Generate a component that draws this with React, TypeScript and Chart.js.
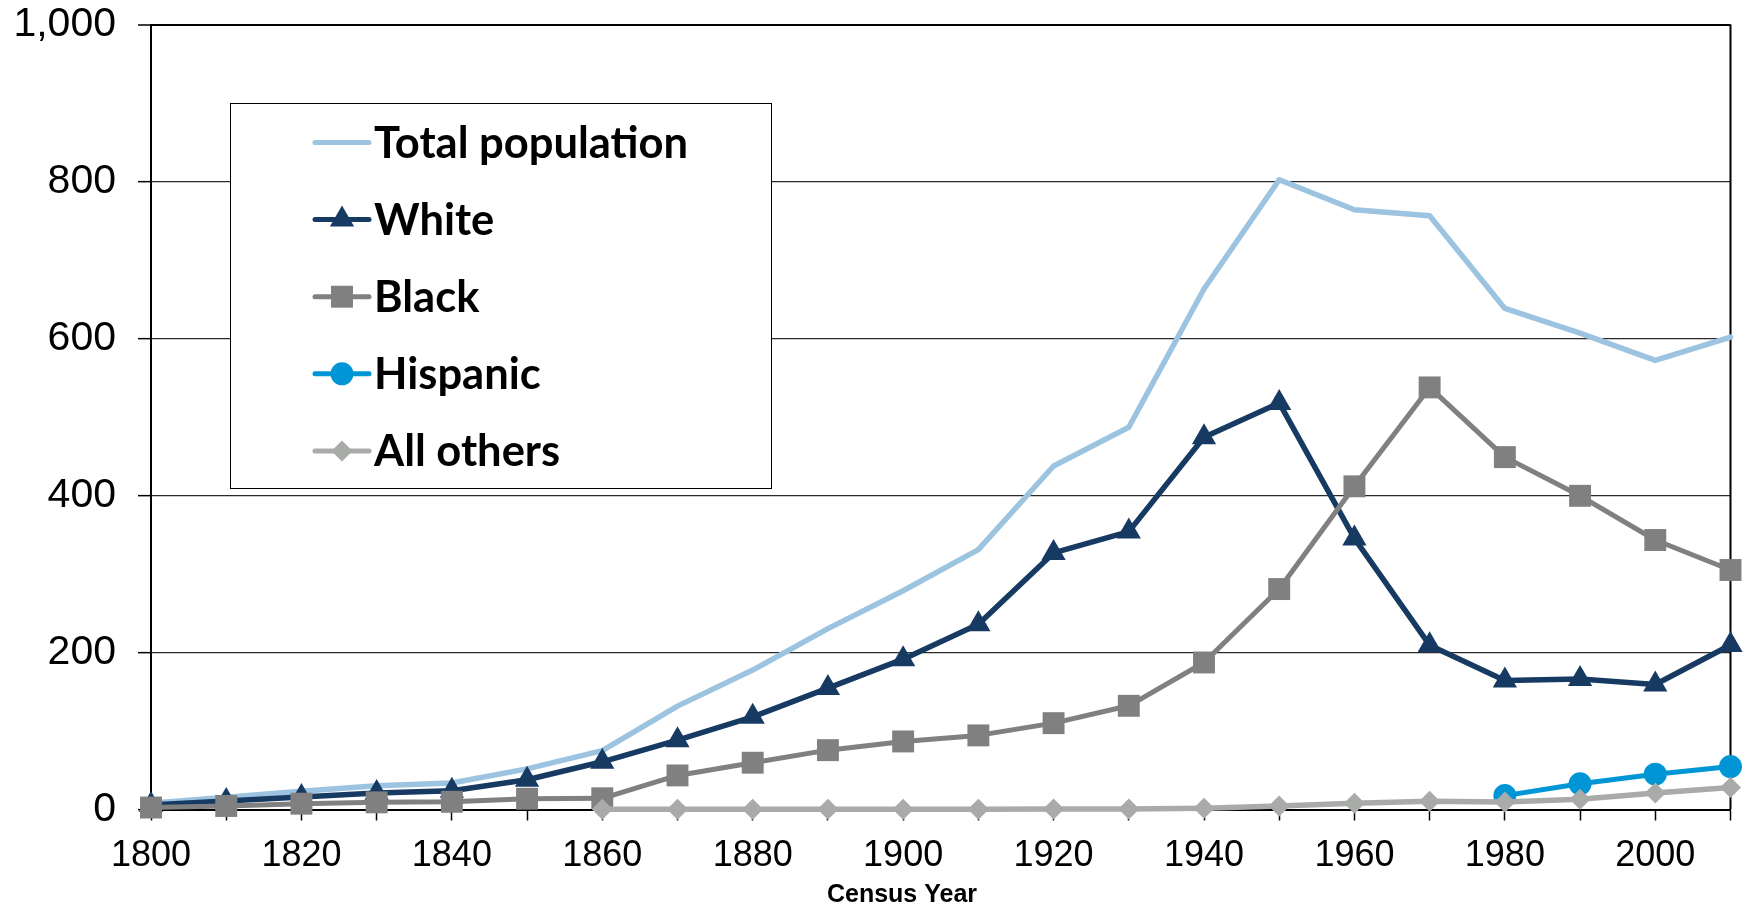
import React, { useEffect, useRef } from 'react';
import { Chart, registerables } from 'chart.js';

Chart.register(...registerables);

// Census years (x categories)
const years = [1800, 1810, 1820, 1830, 1840, 1850, 1860, 1870, 1880, 1890, 1900, 1910, 1920, 1930, 1940, 1950, 1960, 1970, 1980, 1990, 2000, 2010];
// Labelled x ticks
const xLabelYears = [1800, 1820, 1840, 1860, 1880, 1900, 1920, 1940, 1960, 1980, 2000];
// Y tick values (thousands)
const yTicks = [0, 200, 400, 600, 800, 1000];

// Series (thousands of people)
const totalPop = [8.1, 15.5, 23.3, 30.3, 33.7, 51.7, 75.1, 131.7, 177.6, 230.4, 278.7, 331.1, 437.6, 486.9, 663.1, 802.2, 764.0, 756.5, 638.3, 606.9, 572.1, 601.7];
const whitePop = [5.7, 10.9, 15.9, 21.1, 24.0, 37.9, 60.8, 88.3, 118.0, 154.7, 191.5, 236.1, 326.9, 354.0, 474.3, 517.9, 345.3, 209.3, 164.2, 166.1, 159.2, 209.5];
const blackPop = [2.5, 4.5, 7.4, 9.1, 9.8, 13.7, 14.3, 43.4, 59.6, 75.6, 86.7, 94.4, 110.0, 132.1, 187.3, 280.8, 411.7, 537.7, 448.9, 399.6, 343.3, 305.1];
const hispanicPop = [null, null, null, null, null, null, null, null, null, null, null, null, null, null, null, null, null, null, 17.7, 32.7, 45.0, 54.7];
const otherPop = [null, null, null, null, null, null, 0.2, 0.2, 0.2, 0.2, 0.3, 0.4, 0.5, 0.6, 1.5, 4.5, 8.0, 10.5, 9.5, 13.0, 21.0, 28.0];

const seriesNames = ['Total population', 'White', 'Black', 'Hispanic', 'All others'];

function drawMarker(ctx: CanvasRenderingContext2D, style: string, r: number, x: number, y: number, color: string) {
  ctx.save();
  ctx.fillStyle = color;
  ctx.beginPath();
  if (style === 'triangle') {
    const a = (2 * Math.PI) / 3;
    ctx.moveTo(x, y - r);
    ctx.lineTo(x + Math.sin(a) * r, y - Math.cos(a) * r);
    ctx.lineTo(x + Math.sin(2 * a) * r, y - Math.cos(2 * a) * r);
    ctx.closePath();
  } else if (style === 'rect') {
    const s = Math.SQRT1_2 * r;
    ctx.rect(x - s, y - s, 2 * s, 2 * s);
  } else if (style === 'circle') {
    ctx.arc(x, y, r, 0, Math.PI * 2);
  } else if (style === 'rectRot') {
    ctx.moveTo(x - r, y);
    ctx.lineTo(x, y - r);
    ctx.lineTo(x + r, y);
    ctx.lineTo(x, y + r);
    ctx.closePath();
  }
  ctx.fill();
  ctx.restore();
}

const framePlugin = {
  id: 'frame',
  beforeDatasetsDraw(chart: any) {
    const { ctx, chartArea } = chart;
    ctx.save();
    ctx.strokeStyle = '#000';
    ctx.lineWidth = 2;
    ctx.beginPath();
    ctx.moveTo(chartArea.right, chartArea.top);
    ctx.lineTo(chartArea.right, chartArea.bottom);
    ctx.stroke();
    ctx.restore();
  },
  afterDraw(chart: any) {
    const ctx = chart.ctx as CanvasRenderingContext2D;
    ctx.save();
    // x axis title
    ctx.fillStyle = '#000';
    ctx.font = 'bold 25px "Liberation Sans", Arial, sans-serif';
    ctx.textAlign = 'center';
    ctx.textBaseline = 'alphabetic';
    ctx.fillText('Census Year', 902, 902);

    // legend box
    const bx = 230.5, by = 103.5, bw = 541, bh = 385;
    ctx.fillStyle = '#fff';
    ctx.fillRect(bx, by, bw, bh);
    ctx.strokeStyle = '#000';
    ctx.lineWidth = 1;
    ctx.strokeRect(bx, by, bw, bh);

    chart.data.datasets.forEach((ds: any, i: number) => {
      const y = 142.5 + i * 77.1;
      ctx.strokeStyle = ds.borderColor;
      ctx.lineWidth = 5;
      ctx.lineCap = 'round';
      ctx.beginPath();
      ctx.moveTo(315, y);
      ctx.lineTo(369, y);
      ctx.stroke();
      if (ds.pointRadius > 0) {
        drawMarker(ctx, ds.pointStyle, ds.pointRadius, 342, y, ds.pointBackgroundColor);
      }
      ctx.fillStyle = '#000';
      ctx.font = 'bold 43.5px Lato, "Liberation Sans", sans-serif';
      ctx.textAlign = 'left';
      ctx.textBaseline = 'alphabetic';
      ctx.fillText(ds.label, 374, y + 15.5);
    });
    ctx.restore();
  },
};

export default function App() {
  const canvasRef = useRef<HTMLCanvasElement | null>(null);

  useEffect(() => {
    const canvas = canvasRef.current;
    if (!canvas) return;

    const mk = (label: string, data: (number | null)[], color: string, width: number, style: string, radius: number, order: number) => ({
      label,
      data,
      borderColor: color,
      backgroundColor: color,
      borderWidth: width,
      pointStyle: style,
      pointRadius: radius,
      pointHoverRadius: radius,
      pointBackgroundColor: color,
      pointBorderColor: color,
      pointBorderWidth: 0,
      borderJoinStyle: 'round' as const,
      borderCapStyle: 'round' as const,
      tension: 0,
      spanGaps: false,
      clip: false as const,
      order,
    });

    const chart = new Chart(canvas, {
      type: 'line',
      data: {
        labels: years.map(String),
        datasets: [
          mk(seriesNames[0], totalPop, '#9CC3DF', 5.5, 'circle', 0, 5),
          mk(seriesNames[1], whitePop, '#173A63', 5.5, 'triangle', 14, 4),
          mk(seriesNames[2], blackPop, '#808080', 5, 'rect', 15.5, 3),
          mk(seriesNames[3], hispanicPop, '#0096D6', 5, 'circle', 11.5, 2),
          mk(seriesNames[4], otherPop, '#A9ABA9', 5.5, 'rectRot', 10.5, 1),
        ] as any,
      },
      options: {
        animation: false,
        responsive: false,
        maintainAspectRatio: false,
        events: [],
        layout: { padding: { left: 0, right: 12, top: 24.5, bottom: 0 } },
        plugins: {
          legend: { display: false },
          tooltip: { enabled: false },
          title: { display: false },
        },
        scales: {
          x: {
            type: 'category',
            offset: false,
            grid: {
              display: true,
              drawOnChartArea: false,
              drawTicks: true,
              tickLength: 11,
              tickColor: '#000',
              tickWidth: 1.5,
              color: '#000',
            },
            border: { display: true, color: '#000', width: 2 },
            ticks: {
              autoSkip: false,
              maxRotation: 0,
              minRotation: 0,
              padding: 14,
              color: '#000',
              font: { family: '"Liberation Sans", Arial, sans-serif', size: 36 },
              callback: function (this: any, val: any) {
                const y = Number(this.getLabelForValue(val));
                return xLabelYears.includes(y) ? String(y) : '';
              },
            },
            afterFit: (scale: any) => {
              scale.height = 905 - 809.5;
              scale.paddingLeft = 0;
              scale.paddingRight = 0;
            },
          },
          y: {
            type: 'linear',
            min: yTicks[0],
            max: yTicks[yTicks.length - 1],
            grid: {
              display: true,
              drawOnChartArea: true,
              drawTicks: true,
              tickLength: 13,
              tickColor: '#000',
              tickWidth: 1.5,
              color: (c: any) => (c.tick && (c.tick.value === 1000 || c.tick.value === 0) ? '#000' : '#2a2a2a'),
              lineWidth: (c: any) => (c.tick && c.tick.value === 1000 ? 2 : 1.3),
            },
            border: { display: true, color: '#000', width: 2 },
            afterBuildTicks: (scale: any) => {
              scale.ticks = yTicks.map((v) => ({ value: v }));
            },
            ticks: {
              padding: 22,
              color: '#000',
              font: { family: '"Liberation Sans", Arial, sans-serif', size: 41 },
              callback: (v: any) => Number(v).toLocaleString('en-US'),
            },
            afterFit: (scale: any) => {
              scale.width = 151;
              scale.paddingTop = 0;
              scale.paddingBottom = 0;
            },
          },
        },
      },
      plugins: [framePlugin],
    });

    return () => {
      chart.destroy();
    };
  }, []);

  return (
    <div style={{ position: 'absolute', left: 0, top: 0, width: 1746, height: 905, background: '#fff' }}>
      <canvas ref={canvasRef} width={1746} height={905} style={{ display: 'block', width: 1746, height: 905 }} />
    </div>
  );
}
